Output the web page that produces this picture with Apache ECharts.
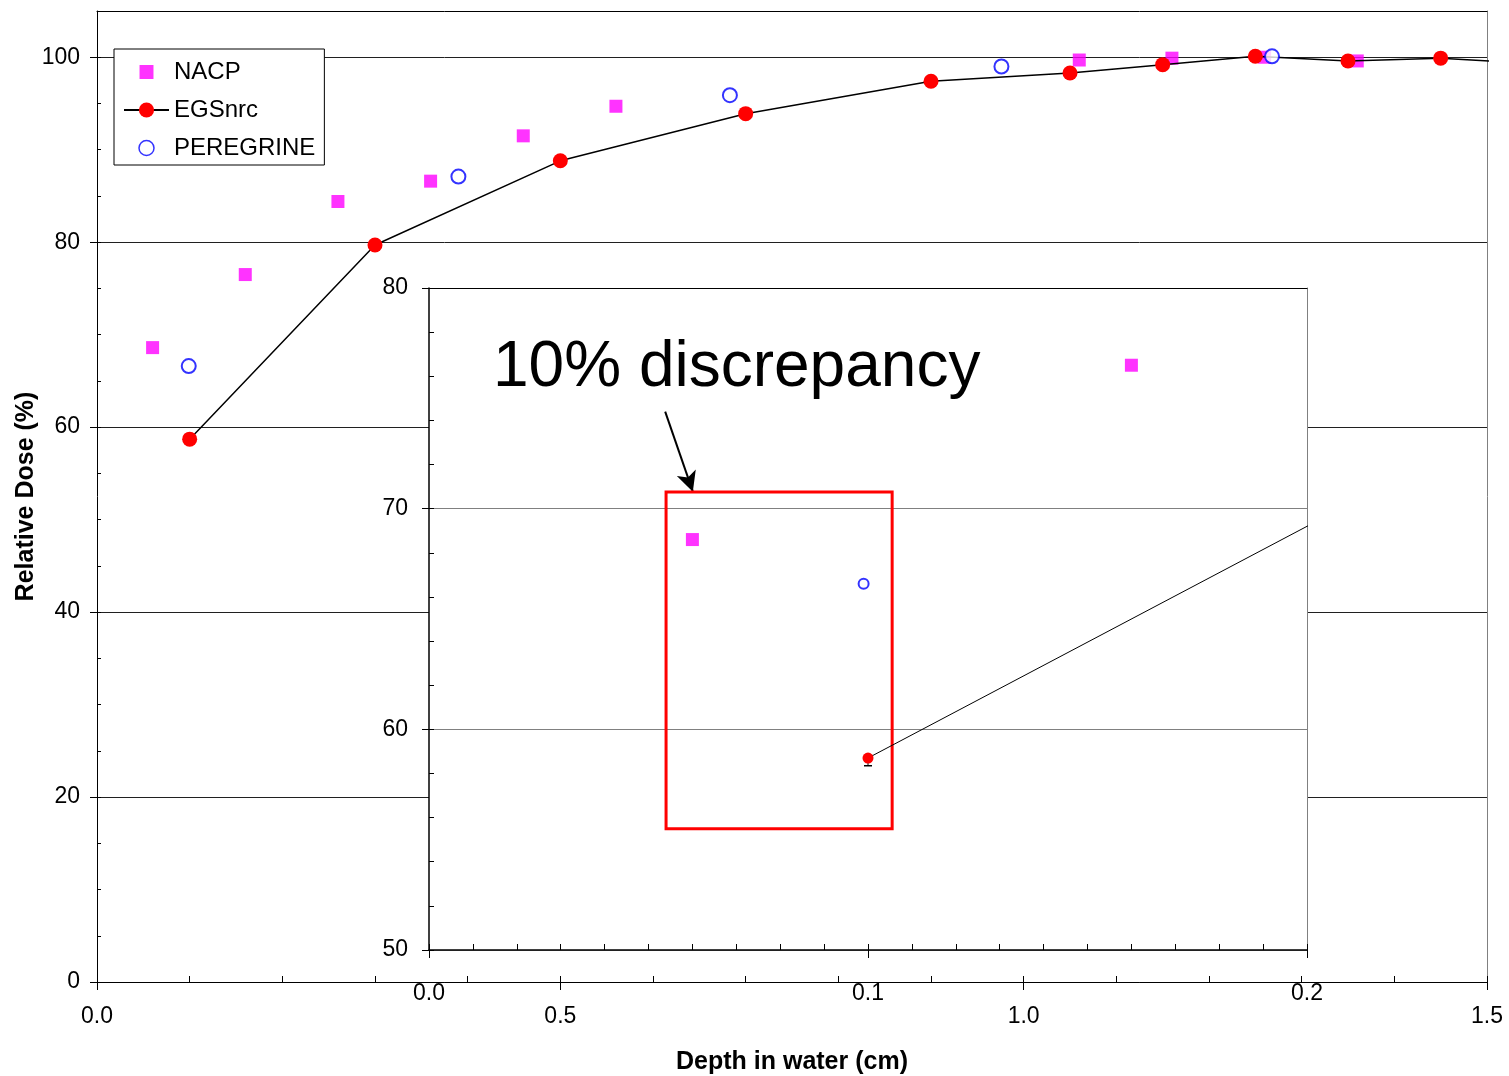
<!DOCTYPE html>
<html>
<head>
<meta charset="utf-8">
<script src="https://cdn.jsdelivr.net/npm/echarts@6/dist/echarts.min.js"></script>
<style>
html,body{margin:0;padding:0;background:#fff;}
#chart{width:1509px;height:1076px;}
</style>
</head>
<body>
<div id="chart"></div>
<script>
// ---- data ----
const nacpX = [0.06, 0.16, 0.26, 0.36, 0.46, 0.56, 1.06, 1.16, 1.26, 1.36];
const nacpY = [68.6, 76.5, 84.4, 86.6, 91.5, 94.7, 99.7, 99.9, 100.0, 99.6];
const egsX  = [0.1, 0.3, 0.5, 0.7, 0.9, 1.05, 1.15, 1.25, 1.35, 1.45, 1.55];
const egsY  = [58.7, 79.7, 88.8, 93.9, 97.4, 98.3, 99.2, 100.1, 99.6, 99.9, 99.3];
const egsErrX = [0.1];
const egsErr  = [0.35];
const pereX = [0.099, 0.39, 0.683, 0.976, 1.268];
const pereY = [66.6, 87.1, 95.9, 99.0, 100.1];
const mainXTicks = [0.0, 0.5, 1.0, 1.5];
const mainYTicks = [0, 20, 40, 60, 80, 100];
const insetXTicks = [0.0, 0.1, 0.2];
const insetYTicks = [50, 60, 70, 80];
const annotationText = '10% discrepancy';
const boxCorners = [[0.054, 70.75], [0.1055, 55.5]];
const arrowPts = [[0.0538, 74.4], [0.0601, 70.77]];

const zip = (xs, ys) => xs.map((x, i) => [x, ys[i]]);
const nacpData = zip(nacpX, nacpY);
const egsData = egsX.map((x, i) => {
  const d = { value: [x, egsY[i]] };
  if (x > 1.5) d.symbol = 'none';
  return d;
});
const pereData = zip(pereX, pereY);
const errData = egsErrX.map((x, i) => {
  const y = egsY[egsX.indexOf(x)];
  return [x, y - egsErr[i], y];
});

const FONT = "'Liberation Sans', Arial, sans-serif";
const MAGENTA = '#FF00FF', RED = '#FF0000', BLUE = '#0000FF';
const fmt1 = v => Number(v).toFixed(1);

const chart = echarts.init(document.getElementById('chart'));
const blankAxis = {
  axisLabel: { show: false }, splitLine: { show: false }
};

chart.setOption({
  animation: false,
  textStyle: { fontFamily: FONT, color: '#000' },
  grid: [
    { left: 97, top: 11, right: 22, bottom: 94, z: 0, outerBoundsMode: 'none', containLabel: false },
    { left: 429, top: 288, right: 202, bottom: 126, show: true, backgroundColor: '#fff', borderWidth: 0, z: 1,
      outerBoundsMode: 'none', containLabel: false }
  ],
  legend: {
    orient: 'vertical', left: 114, top: 49,
    padding: [11, 9, 5, 9], itemGap: 14, itemWidth: 45, itemHeight: 19,
    symbolKeepAspect: true,
    borderColor: '#000', borderWidth: 1, backgroundColor: '#fff',
    textStyle: { fontSize: 24, color: '#000', fontFamily: FONT },
    data: [
      { name: 'NACP', icon: 'path://M-1.8 -1.8M11.8 11.8M0 0H10V10H0Z', itemStyle: { color: MAGENTA } },
      { name: 'EGSnrc' },
      { name: 'PEREGRINE', icon: 'path://M-2 -2M17 17M0 7.5A7.5 7.5 0 1 0 15 7.5A7.5 7.5 0 1 0 0 7.5Z',
        itemStyle: { color: '#fff', borderColor: BLUE, borderWidth: 1.5 } }
    ]
  },
  xAxis: [
    { // 0 main bottom
      type: 'value', gridIndex: 0, position: 'bottom', min: 0, max: 1.5, interval: 0.5,
      axisLine: { show: true, onZero: false, lineStyle: { color: '#000', width: 1 } },
      axisTick: { show: true, inside: false, length: 8, lineStyle: { color: '#000' }, customValues: mainXTicks },
      axisLabel: { fontSize: 23, color: '#000', margin: 23, formatter: fmt1, customValues: mainXTicks },
      splitLine: { show: false },
      name: 'Depth in water (cm)', nameLocation: 'middle', nameGap: 68, nameMoveOverlap: false,
      nameTextStyle: { fontSize: 25, fontWeight: 'bold', color: '#000', fontFamily: FONT }
    },
    Object.assign({ // 1 main minor ticks
      type: 'value', gridIndex: 0, position: 'bottom', offset: 0, min: 0, max: 1.5, interval: 0.1,
      axisLine: { show: false, onZero: false },
      axisTick: { show: true, inside: true, length: 6, lineStyle: { color: '#000' } }
    }, blankAxis),
    Object.assign({ // 2 main top border
      type: 'value', gridIndex: 0, position: 'top', offset: 0, min: 0, max: 1.5,
      axisLine: { show: true, onZero: false, lineStyle: { color: '#000' } },
      axisTick: { show: false }
    }, blankAxis),
    { // 3 inset bottom
      type: 'value', gridIndex: 1, position: 'bottom', min: 0, max: 0.2, interval: 0.1, z: 3,
      axisLine: { show: true, onZero: false, lineStyle: { color: '#000', width: 1.5 } },
      axisTick: { show: true, inside: false, length: 8, lineStyle: { color: '#000' } },
      axisLabel: { fontSize: 23, color: '#000', margin: 32, formatter: fmt1, customValues: insetXTicks },
      splitLine: { show: false }
    },
    Object.assign({ // 4 inset minor ticks
      type: 'value', gridIndex: 1, position: 'bottom', offset: 0, min: 0, max: 0.2, interval: 0.01, z: 3,
      axisLine: { show: false, onZero: false },
      axisTick: { show: true, inside: true, length: 6, lineStyle: { color: '#000' } }
    }, blankAxis),
    Object.assign({ // 5 inset top border
      type: 'value', gridIndex: 1, position: 'top', offset: 0, min: 0, max: 0.2, z: 3,
      axisLine: { show: true, onZero: false, lineStyle: { color: '#000' } },
      axisTick: { show: false }
    }, blankAxis)
  ],
  yAxis: [
    { // 0 main left
      type: 'value', gridIndex: 0, position: 'left', min: 0, max: 105, interval: 20,
      axisLine: { show: true, onZero: false, lineStyle: { color: '#000' } },
      axisTick: { show: true, inside: false, length: 7, lineStyle: { color: '#000' }, customValues: mainYTicks },
      axisLabel: { fontSize: 23, color: '#000', margin: 17, customValues: mainYTicks,
                   formatter: v => (v % 20 === 0 ? String(v) : '') },
      splitLine: { show: true, lineStyle: { color: '#202020', width: 1 } },
      name: 'Relative Dose (%)', nameLocation: 'middle', nameGap: 58, nameMoveOverlap: false,
      nameTextStyle: { fontSize: 25, fontWeight: 'bold', color: '#000', fontFamily: FONT }
    },
    Object.assign({ // 1 main minor ticks
      type: 'value', gridIndex: 0, position: 'left', offset: 0, min: 0, max: 105, interval: 5,
      axisLine: { show: false, onZero: false },
      axisTick: { show: true, inside: true, length: 4, lineStyle: { color: '#000' } }
    }, blankAxis),
    Object.assign({ // 2 main right border
      type: 'value', gridIndex: 0, position: 'right', offset: 0, min: 0, max: 105,
      axisLine: { show: true, onZero: false, lineStyle: { color: '#808080' } },
      axisTick: { show: false }
    }, blankAxis),
    { // 3 inset left
      type: 'value', gridIndex: 1, position: 'left', min: 50, max: 80, interval: 10, z: 3,
      axisLine: { show: true, onZero: false, lineStyle: { color: '#000', width: 1.5 } },
      axisTick: { show: true, inside: false, length: 7, lineStyle: { color: '#000' } },
      axisLabel: { fontSize: 23, color: '#000', margin: 21, customValues: insetYTicks },
      splitLine: { show: true, lineStyle: { color: '#808080', width: 1 } }
    },
    Object.assign({ // 4 inset minor ticks
      type: 'value', gridIndex: 1, position: 'left', offset: 0, min: 50, max: 80, interval: 2, z: 3,
      axisLine: { show: false, onZero: false },
      axisTick: { show: true, inside: true, length: 5, lineStyle: { color: '#000' } }
    }, blankAxis),
    Object.assign({ // 5 inset right border
      type: 'value', gridIndex: 1, position: 'right', offset: 0, min: 50, max: 80, z: 3,
      axisLine: { show: true, onZero: false, lineStyle: { color: '#808080' } },
      axisTick: { show: false }
    }, blankAxis)
  ],
  series: [
    { name: 'NACP', type: 'scatter', xAxisIndex: 0, yAxisIndex: 0,
      symbol: 'rect', symbolSize: 13, itemStyle: { color: MAGENTA }, data: nacpData, z: 3 },
    { name: 'EGSnrc', type: 'line', xAxisIndex: 0, yAxisIndex: 0,
      symbol: 'circle', symbolSize: 15, showAllSymbol: true,
      itemStyle: { color: RED }, lineStyle: { color: '#000', width: 1.5 }, data: egsData, z: 4 },
    { name: 'PEREGRINE', type: 'scatter', xAxisIndex: 0, yAxisIndex: 0,
      symbol: 'emptyCircle', symbolSize: 14, itemStyle: { color: BLUE, borderColor: BLUE, borderWidth: 1.5 },
      data: pereData, z: 5 },

    // inset (zoomed view of the same data)
    { name: 'NACP inset', type: 'scatter', xAxisIndex: 3, yAxisIndex: 3, z: 5,
      symbol: 'rect', symbolSize: 13, itemStyle: { color: MAGENTA }, data: nacpData,
      markArea: { silent: true, z: 6,
        itemStyle: { color: 'rgba(0,0,0,0)', borderColor: RED, borderWidth: 3 },
        data: [[{ coord: boxCorners[0] }, { coord: boxCorners[1] }]] },
      markLine: { silent: true, symbol: ['none', 'arrow'], symbolSize: [15, 20],
        lineStyle: { color: '#000', width: 2, type: 'solid' }, label: { show: false },
        data: [[{ coord: arrowPts[0] }, { coord: arrowPts[1] }]] }
    },
    { name: 'EGSnrc err', type: 'custom', xAxisIndex: 3, yAxisIndex: 3, z: 5,
      data: errData,
      renderItem: (params, api) => {
        const x = api.value(0);
        const lo = api.coord([x, api.value(1)]);
        const hi = api.coord([x, api.value(2)]);
        return { type: 'group', children: [
          { type: 'line', shape: { x1: lo[0], y1: lo[1], x2: hi[0], y2: hi[1] }, style: { stroke: '#000', lineWidth: 1 } },
          { type: 'line', shape: { x1: lo[0] - 4, y1: lo[1], x2: lo[0] + 4, y2: lo[1] }, style: { stroke: '#000', lineWidth: 1.5 } }
        ] };
      }
    },
    { name: 'EGSnrc inset', type: 'line', xAxisIndex: 3, yAxisIndex: 3, z: 6,
      symbol: 'circle', symbolSize: 11, showAllSymbol: true,
      itemStyle: { color: RED }, lineStyle: { color: '#000', width: 1 }, data: egsData },
    { name: 'PEREGRINE inset', type: 'scatter', xAxisIndex: 3, yAxisIndex: 3, z: 6,
      symbol: 'emptyCircle', symbolSize: 10, itemStyle: { color: BLUE, borderColor: BLUE, borderWidth: 1.2 },
      data: pereData }
  ],
  graphic: [
    { type: 'text', x: 493, y: 368, z: 10,
      style: { text: annotationText, fontSize: 64, fontFamily: FONT, fill: '#000', verticalAlign: 'middle', align: 'left' } }
  ]
});
</script>
</body>
</html>
